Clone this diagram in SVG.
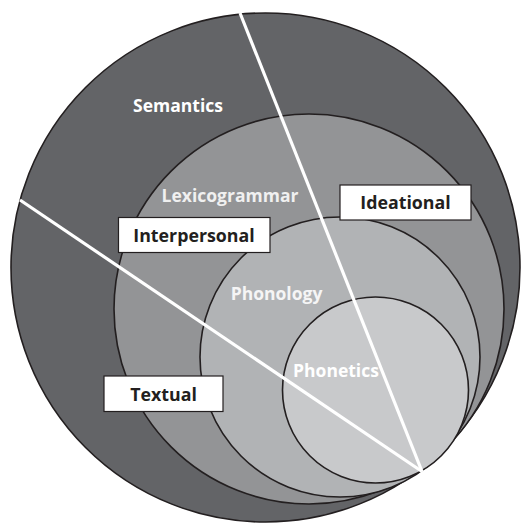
<svg xmlns="http://www.w3.org/2000/svg" width="521" height="523" viewBox="0 0 521 523">
  <style>
    .ring { stroke: #231f20; stroke-width: 1.6; }
    .lvl { font-family: "Open Sans", "Liberation Sans", sans-serif; font-weight: bold; font-size: 17.5px; text-anchor: middle; }
    .box rect { fill: #ffffff; stroke: #231f20; stroke-width: 1.2; }
    .box text { font-family: "Open Sans", "Liberation Sans", sans-serif; font-weight: bold; font-size: 17.8px; fill: #231f20; text-anchor: middle; }
    .divider { stroke: #ffffff; stroke-width: 3.2; stroke-linecap: butt; }
  </style>
  <rect width="521" height="523" fill="#ffffff"/>

  <g id="semantics">
    <circle class="ring" cx="265.5" cy="267.5" r="254.5" fill="#636467"/>
  </g>
  <g id="lexicogrammar">
    <circle class="ring" cx="309" cy="309" r="195" fill="#939496"/>
  </g>
  <g id="phonology">
    <circle class="ring" cx="340" cy="357" r="140" fill="#b1b3b5"/>
  </g>
  <g id="phonetics">
    <circle class="ring" cx="375.5" cy="390" r="93" fill="#c8c9cb"/>
  </g>

  <g id="connectors">
    <line class="divider" x1="240" y1="13" x2="422" y2="471.5"/>
    <line class="divider" x1="20" y1="200" x2="422" y2="471.5"/>
  </g>

  <g id="level-labels">
    <text class="lvl" x="178" y="111.5" fill="#ffffff">Semantics</text>
    <text class="lvl" x="230" y="201.5" fill="#f0f0f0">Lexicogrammar</text>
    <text class="lvl" x="276.5" y="299.5" fill="#f5f5f5">Phonology</text>
    <text class="lvl" x="336" y="376.5" fill="#ffffff">Phonetics</text>
  </g>

  <g id="ideational" class="box">
    <rect x="340" y="185" width="131" height="35"/>
    <text x="405.5" y="209">Ideational</text>
  </g>
  <g id="interpersonal" class="box">
    <rect x="118.5" y="217.5" width="151.5" height="35"/>
    <text x="194" y="241.5">Interpersonal</text>
  </g>
  <g id="textual" class="box">
    <rect x="104" y="376" width="119" height="35.5"/>
    <text x="163.5" y="400.5">Textual</text>
  </g>
</svg>
